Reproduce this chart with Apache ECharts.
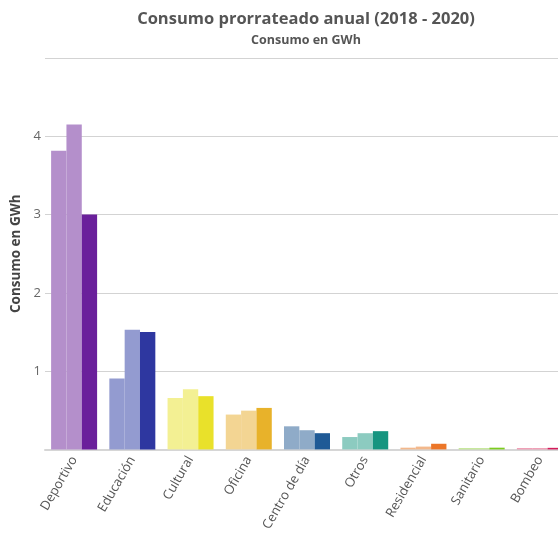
<!DOCTYPE html>
<html>
<head>
<meta charset="utf-8">
<script src="https://cdn.jsdelivr.net/npm/echarts@6/dist/echarts.min.js"></script>
<style>html,body{margin:0;padding:0;background:#fff;overflow:hidden}#c{width:580px;height:534px}</style>
</head>
<body>
<div id="c"></div>
<script>
const categories = ['Deportivo','Educación','Cultural','Oficina','Centro de día','Otros','Residencial','Sanitario','Bombeo'];
const values2018 = [3.815, 0.905, 0.657, 0.445, 0.295, 0.158, 0.022, 0.016, 0.016];
const values2019 = [4.15, 1.53, 0.77, 0.495, 0.245, 0.207, 0.036, 0.016, 0.016];
const values2020 = [3.00, 1.50, 0.68, 0.53, 0.207, 0.233, 0.072, 0.022, 0.02];
const lightColors = ['#b48fcb','#939bd0','#f3f093','#f3d593','#8fabc8','#8ccbc0','#f3b88c','#bde48c','#ee8fab'];
const darkColors  = ['#6a209b','#2e37a0','#e9e12a','#e8b22a','#1f5a96','#169580','#ec7628','#7ccc1f','#d41b5a'];
const yTicks = [0, 1, 2, 3, 4, 5];

function mk(vals, cols){ return vals.map((v,i)=>({value:v, itemStyle:{color:cols[i]}})); }

const chart = echarts.init(document.getElementById('c'), null, {renderer:'canvas'});
chart.setOption({
  animation:false,
  textStyle:{fontFamily:'"Open Sans", sans-serif'},
  title:{
    text:'Consumo prorrateado anual (2018 - 2020)',
    subtext:'Consumo en GWh',
    left:301, textAlign:'center', top:6, itemGap:6,
    textStyle:{fontSize:16.5, fontWeight:'bold', color:'#555', fontFamily:'"Open Sans", sans-serif'},
    subtextStyle:{fontSize:12.5, fontWeight:'bold', color:'#555', fontFamily:'"Open Sans", sans-serif'}
  },
  grid:{left:45, top:58, width:524, height:401, containLabel:false},
  xAxis:{
    type:'category', data:categories,
    axisLine:{lineStyle:{color:'#d6d6d6', width:2}},
    axisTick:{show:false},
    axisLabel:{rotate:60, color:'#555', fontSize:13, margin:8, interval:0}
  },
  yAxis:{
    type:'value', min:yTicks[0], max:yTicks[yTicks.length-1], interval:1,
    name:'Consumo en GWh', nameLocation:'middle', nameGap:18,
    nameTextStyle:{fontWeight:'bold', fontSize:13.5, color:'#444'},
    axisLine:{show:false}, axisTick:{show:false},
    axisLabel:{color:'#666', fontSize:13, margin:4, showMaxLabel:false, showMinLabel:false},
    splitLine:{lineStyle:{color:'#d3d3d3', width:1}}
  },
  series:[
    {name:'2018', type:'bar', data:mk(values2018, lightColors), barGap:'0%', barCategoryGap:'21%'},
    {name:'2019', type:'bar', data:mk(values2019, lightColors), barGap:'0%', barCategoryGap:'21%'},
    {name:'2020', type:'bar', data:mk(values2020, darkColors), barGap:'0%', barCategoryGap:'21%'}
  ]
});
</script>
</body>
</html>
